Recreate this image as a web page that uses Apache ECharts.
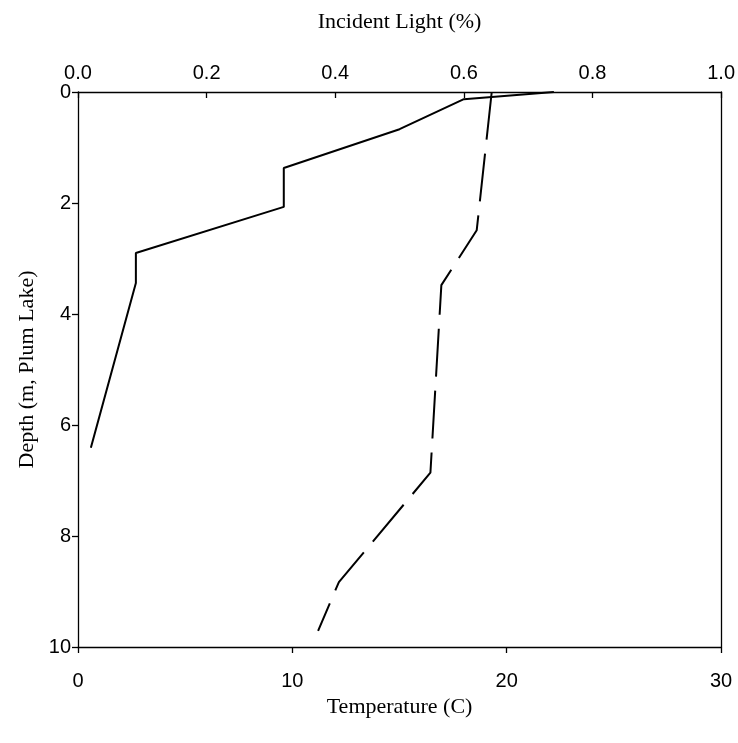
<!DOCTYPE html>
<html>
<head>
<meta charset="utf-8">
<script src="https://cdn.jsdelivr.net/npm/echarts@6/dist/echarts.min.js"></script>
<style>
  html, body { margin: 0; padding: 0; background: #fff; }
  #chart { width: 738px; height: 743px; }
</style>
</head>
<body>
<div id="chart"></div>
<script>
// Light profile: fraction of incident light by depth
var lightDepth = [0, 0.13, 0.67, 1.37, 2.07, 2.90, 3.44, 6.41];
var lightValue = [0.74, 0.60, 0.50, 0.32, 0.32, 0.09, 0.09, 0.02];

// Temperature profile (C) by depth
var tempDepth = [0, 2.49, 3.48, 6.86, 8.83, 9.71];
var tempValue = [19.3, 18.6, 16.95, 16.44, 12.17, 11.2];

// Axis tick labels
var depthTicks = [0, 2, 4, 6, 8, 10];
var tempTicks = [0, 10, 20, 30];
var lightTicks = [0.0, 0.2, 0.4, 0.6, 0.8, 1.0];

var labelFont = { color: '#000', fontFamily: 'Liberation Sans', fontSize: 20 };
var titleFont = { color: '#000', fontFamily: 'Liberation Serif', fontSize: 22 };
var lineStyle = { color: '#000', width: 1.3 };

function pairs(xs, ys) {
  return xs.map(function (x, i) { return [x, ys[i]]; });
}

var chart = echarts.init(document.getElementById('chart'));
chart.setOption({
  animation: false,
  backgroundColor: '#fff',
  grid: { left: 78, right: 14, top: 92, bottom: 96, containLabel: false },
  xAxis: [
    {
      type: 'value', position: 'bottom', min: tempTicks[0], max: tempTicks[tempTicks.length - 1], interval: 10,
      name: 'Temperature (C)', nameLocation: 'middle', nameGap: 47,
      nameTextStyle: titleFont,
      axisLine: { show: true, onZero: false, lineStyle: lineStyle },
      axisTick: { show: true, length: 6, lineStyle: lineStyle },
      axisLabel: Object.assign({ margin: 24 }, labelFont),
      splitLine: { show: false }
    },
    {
      type: 'value', position: 'top', min: lightTicks[0], max: lightTicks[lightTicks.length - 1], interval: 0.2,
      name: 'Incident Light (%)', nameLocation: 'middle', nameGap: 59,
      nameTextStyle: titleFont,
      axisLine: { show: true, onZero: false, lineStyle: lineStyle },
      axisTick: { show: true, inside: true, length: 6, lineStyle: lineStyle },
      axisLabel: Object.assign({ margin: 9, formatter: function (v) { return v.toFixed(1); } }, labelFont),
      splitLine: { show: false }
    }
  ],
  yAxis: [
    {
      type: 'value', inverse: true, min: depthTicks[0], max: depthTicks[depthTicks.length - 1], interval: 2,
      name: 'Depth (m, Plum Lake)', nameLocation: 'middle', nameGap: 39,
      nameTextStyle: titleFont,
      axisLine: { show: true, onZero: false, lineStyle: lineStyle },
      axisTick: { show: true, length: 6, lineStyle: lineStyle },
      axisLabel: Object.assign({ margin: 7 }, labelFont),
      splitLine: { show: false }
    },
    {
      type: 'value', inverse: true, position: 'right', min: 0, max: 10, interval: 2,
      axisLine: { show: true, onZero: false, lineStyle: lineStyle },
      axisTick: { show: false },
      axisLabel: { show: false },
      splitLine: { show: false }
    }
  ],
  series: [
    {
      name: 'Incident Light',
      type: 'line',
      xAxisIndex: 1, yAxisIndex: 0,
      data: pairs(lightValue, lightDepth),
      symbol: 'none',
      lineStyle: { color: '#000', width: 2 }
    },
    {
      name: 'Temperature',
      type: 'line',
      xAxisIndex: 0, yAxisIndex: 0,
      data: pairs(tempValue, tempDepth),
      symbol: 'none',
      lineStyle: { color: '#000', width: 2, type: [48, 14] }
    }
  ]
});
</script>
</body>
</html>
